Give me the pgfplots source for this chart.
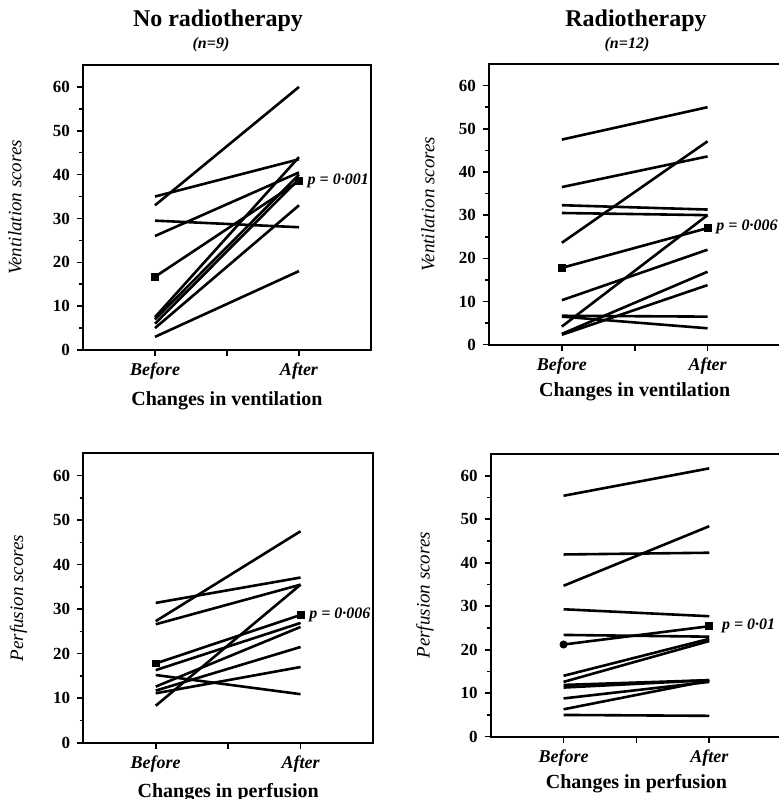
\documentclass[border=0pt]{standalone}
\usepackage{fontspec}
\setmainfont{Liberation Serif}
\usepackage{pgfplots}
\pgfplotsset{compat=1.18}

\pgfplotsset{
  panel/.style={
    scale only axis, anchor=south west,
    xmin=0.5, xmax=2.5, ymin=0, ymax=65,
    axis line style={line width=1pt},
    xtick={1,1.5,2}, xticklabels={Before,,After},
    ytick={0,10,...,60}, minor ytick={5,15,...,55},
    tick align=outside, xtick pos=bottom, ytick pos=left,
    major tick length=3pt, minor tick length=1.8pt,
    tick style={line width=0.8pt, black},
    /pgf/number format/assume math mode=true,
    yticklabel style={font=\bfseries\fontsize{8.5}{9}\selectfont},
    xticklabel style={font=\bfseries\itshape\fontsize{9}{10}\selectfont, yshift=0pt},
    xlabel style={font=\bfseries\fontsize{10}{12}\selectfont, anchor=center},
    ylabel style={font=\itshape\fontsize{9.5}{11}\selectfont, anchor=center},
  },
  pair/.style={black, line width=1.3pt, mark=none},
  mean/.style={black, line width=1.3pt, mark=square*, mark size=1.7pt, mark options={line width=0.4pt}},
}
\tikzset{plab/.style={anchor=west, font=\bfseries\itshape\fontsize{8}{9}\selectfont, inner sep=0pt}}

\begin{document}
\begin{tikzpicture}

% titres
\node[anchor=base, font=\bfseries\fontsize{12}{14}\selectfont] at (109pt,386pt) {No radiotherapy};
\node[anchor=base, font=\bfseries\itshape\fontsize{8}{9}\selectfont] at (105.5pt,375pt) {(n=9)};
\node[anchor=base, font=\bfseries\fontsize{12}{14}\selectfont] at (318pt,386pt) {Radiotherapy};
\node[anchor=base, font=\bfseries\itshape\fontsize{8}{9}\selectfont] at (313.5pt,375pt) {(n=12)};

% ventilation, sans radiotherapie
\begin{axis}[panel, at={(41.5pt,224.5pt)}, width=144pt, height=142.5pt,
  xlabel={Changes in ventilation}, ylabel={Ventilation scores},
  xlabel style={at={(axis description cs:0.5,-0.178)}},
  ylabel style={at={(axis description cs:-0.236,0.5)}}]
\addplot[pair] coordinates {(1,33) (2,60)};
\addplot[pair] coordinates {(1,35) (2,43.5)};
\addplot[pair] coordinates {(1,26) (2,40.5)};
\addplot[pair] coordinates {(1,29.5) (2,28)};
\addplot[pair] coordinates {(1,3) (2,18)};
\addplot[pair] coordinates {(1,7.5) (2,44)};
\addplot[pair] coordinates {(1,7) (2,40)};
\addplot[pair] coordinates {(1,6) (2,39)};
\addplot[pair] coordinates {(1,5) (2,33)};
\addplot[mean] coordinates {(1,16.7) (2,38.5)};
\node[plab] at (axis cs:2.058,38.5) {p = 0·001};
\end{axis}

% ventilation, radiotherapie
\begin{axis}[panel, at={(244.5pt,227.15pt)}, width=145.7pt, height=140.35pt,
  xlabel={Changes in ventilation}, ylabel={Ventilation scores},
  xlabel style={at={(axis description cs:0.5,-0.166)}},
  ylabel style={at={(axis description cs:-0.21,0.5)}}]
\addplot[pair] coordinates {(1,47.5) (2,55)};
\addplot[pair] coordinates {(1,36.5) (2,43.6)};
\addplot[pair] coordinates {(1,32.3) (2,31.3)};
\addplot[pair] coordinates {(1,30.5) (2,30)};
\addplot[pair] coordinates {(1,23.6) (2,47.1)};
\addplot[pair] coordinates {(1,10.3) (2,22)};
\addplot[pair] coordinates {(1,6.7) (2,6.5)};
\addplot[pair] coordinates {(1,6.5) (2,3.8)};
\addplot[pair] coordinates {(1,4.2) (2,30)};
\addplot[pair] coordinates {(1,2.5) (2,16.9)};
\addplot[pair] coordinates {(1,2.3) (2,13.8)};
\addplot[mean] coordinates {(1,17.8) (2,27)};
\node[plab] at (axis cs:2.058,27.2) {p = 0·006};
\end{axis}

% perfusion, sans radiotherapie
\begin{axis}[panel, at={(41.65pt,28.15pt)}, width=144.85pt, height=144.7pt,
  xlabel={Changes in perfusion}, ylabel={Perfusion scores},
  xlabel style={at={(axis description cs:0.5,-0.173)}},
  ylabel style={at={(axis description cs:-0.224,0.5)}}]
\addplot[pair] coordinates {(1,31.4) (2,37.1)};
\addplot[pair] coordinates {(1,27.3) (2,47.5)};
\addplot[pair] coordinates {(1,26.6) (2,35.5)};
\addplot[pair] coordinates {(1,16.3) (2,26.9)};
\addplot[pair] coordinates {(1,15.2) (2,10.9)};
\addplot[pair] coordinates {(1,12.6) (2,26)};
\addplot[pair] coordinates {(1,11.7) (2,21.5)};
\addplot[pair] coordinates {(1,11.1) (2,17)};
\addplot[pair] coordinates {(1,8.3) (2,35.5)};
\addplot[mean] coordinates {(1,17.8) (2,28.7)};
\node[plab] at (axis cs:2.058,28.7) {p = 0·006};
\end{axis}

% perfusion, radiotherapie
\begin{axis}[panel, at={(245.35pt,31.15pt)}, width=145.7pt, height=141.35pt,
  xlabel={Changes in perfusion}, ylabel={Perfusion scores},
  xlabel style={at={(axis description cs:0.5,-0.165)}},
  ylabel style={at={(axis description cs:-0.226,0.5)}}]
\addplot[pair] coordinates {(1,55.4) (2,61.7)};
\addplot[pair] coordinates {(1,41.9) (2,42.3)};
\addplot[pair] coordinates {(1,34.7) (2,48.4)};
\addplot[pair] coordinates {(1,29.3) (2,27.7)};
\addplot[pair] coordinates {(1,23.4) (2,23)};
\addplot[pair] coordinates {(1,14) (2,22.5)};
\addplot[pair] coordinates {(1,12.6) (2,22)};
\addplot[pair] coordinates {(1,11.9) (2,13)};
\addplot[pair] coordinates {(1,11.3) (2,13)};
\addplot[pair] coordinates {(1,8.8) (2,12.6)};
\addplot[pair] coordinates {(1,6.3) (2,12.9)};
\addplot[pair] coordinates {(1,5) (2,4.8)};
\addplot[mean, mark indices={2}] coordinates {(1,21.2) (2,25.4)};
\addplot[black, only marks, mark=*, mark size=1.8pt] coordinates {(1,21.2)};
\node[plab] at (axis cs:2.085,25.4) {p = 0·01};
\end{axis}

\pgfresetboundingbox
\useasboundingbox (0,0) rectangle (389.5pt,399.5pt);
\end{tikzpicture}
\end{document}
